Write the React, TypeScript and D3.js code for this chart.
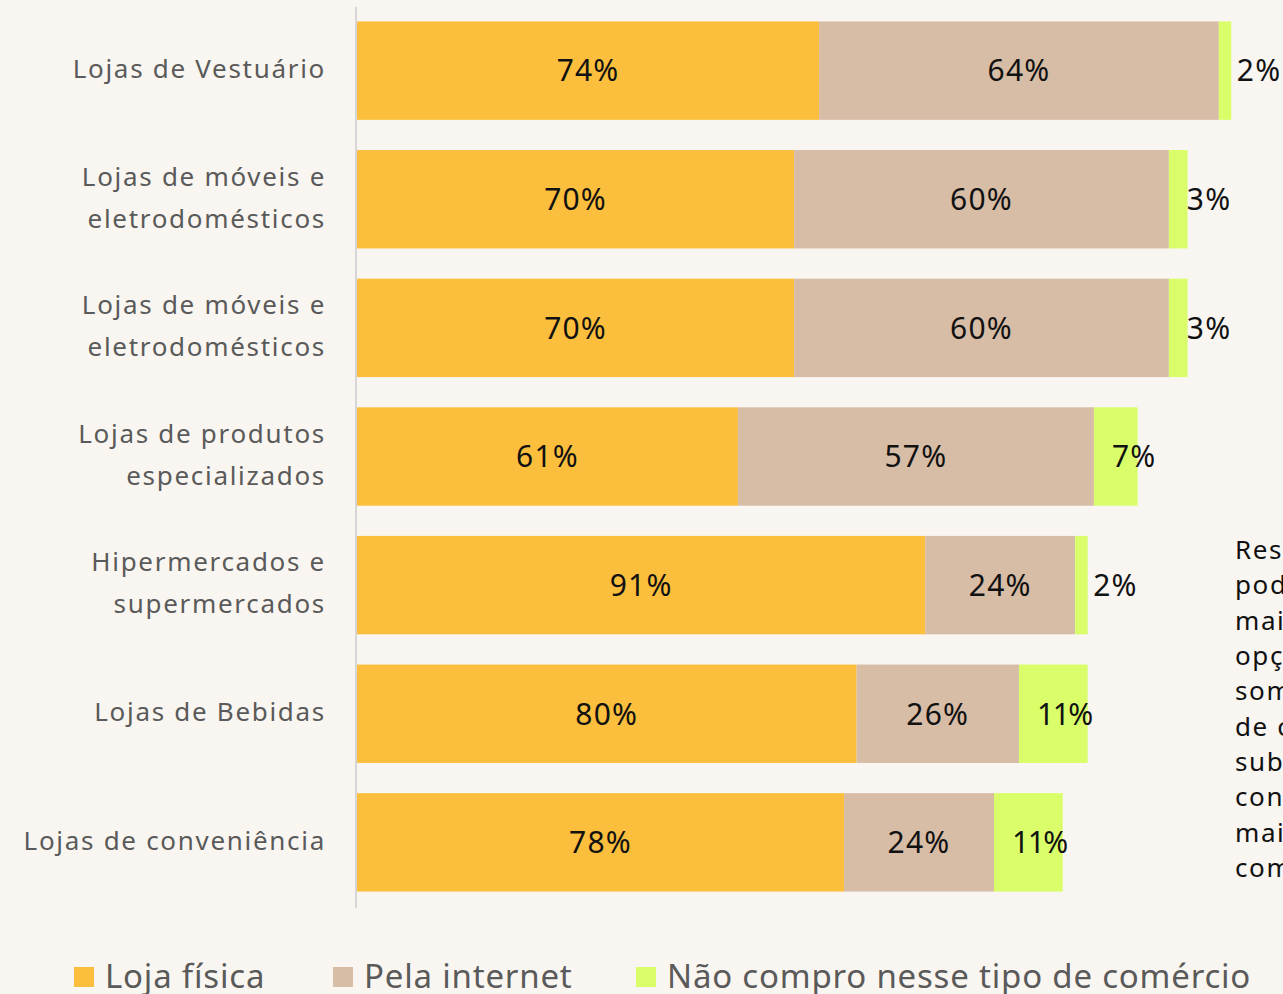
import React from 'react';
import {scaleBand, scaleLinear, stack} from 'd3';

const categories = [
  'Lojas de Vestuário',
  'Lojas de móveis e|eletrodomésticos',
  'Lojas de móveis e|eletrodomésticos',
  'Lojas de produtos|especializados',
  'Hipermercados e|supermercados',
  'Lojas de Bebidas',
  'Lojas de conveniência',
];
const lojaFisica = [74, 70, 70, 61, 91, 80, 78];
const pelaInternet = [64, 60, 60, 57, 24, 26, 24];
const naoCompro = [2, 3, 3, 7, 2, 11, 11];
const seriesNames = ['Loja física', 'Pela internet', 'Não compro nesse tipo de comércio'];
const colors = ['#fcbf3d', '#d7bca6', '#d9fe69'];
const noteLines = [
  'Respondentes', 'podiam marcar', 'mais de uma', 'opção, então a', 'soma dos valores',
  'de cada', 'subcategoria', 'considera', 'mais de uma', 'compra',
];

const W = 1283, H = 994;
const FONT = "'Noto Sans', sans-serif";

const App = () => {
  const keys = ['a', 'b', 'c'];
  const rows = categories.map((c, i) => ({cat: i, a: lojaFisica[i], b: pelaInternet[i], c: naoCompro[i]}));
  const stacked = stack<any>().keys(keys)(rows);

  const y = scaleBand<number>()
    .domain(categories.map((_, i) => i))
    .range([6, 907])
    .paddingInner(0.235)
    .paddingOuter(0.12);
  const x = scaleLinear().domain([0, 100]).range([357, 981.5]);

  return (
    <div style={{position: 'absolute', left: 0, top: 0}}>
      <svg width={W} height={H} style={{display: 'block', fontFamily: FONT}}>
        <rect width={W} height={H} fill="#f9f6f1" />
        {stacked.map((s, si) => (
          <g key={si}>
            {s.map((d, i) => {
              const x0 = x(d[0]), x1 = x(d[1]);
              const yy = y(i)!;
              const cy = yy + y.bandwidth() / 2;
              const v = d[1] - d[0];
              return (
                <g key={i}>
                  <rect x={x0} y={yy} width={x1 - x0} height={y.bandwidth()} fill={colors[si]} />
                  {si < 2 ? (
                    <text x={(x0 + x1) / 2} y={cy} dy="0.36em" textAnchor="middle" fontSize={30} letterSpacing={1.2} fill="#111">{v}%</text>
                  ) : (
                    <text x={x0 + 18} y={cy} dy="0.36em" textAnchor="start" fontSize={30} letterSpacing={v > 9 ? -1.5 : 1.2} fill="#111">{v}%</text>
                  )}
                </g>
              );
            })}
          </g>
        ))}
        <line x1={356} x2={356} y1={7} y2={908} stroke="#d6d6d6" strokeWidth={2} />
        {categories.map((c, i) => {
          const lines = c.split('|');
          const cy = y(i)! + y.bandwidth() / 2;
          return (
            <text key={i} x={326} y={cy - (lines.length - 1) * 21} textAnchor="end" fontSize={26} letterSpacing={1.7} fill="#5a5a5a">
              {lines.map((l, li) => (
                <tspan key={li} x={326} dy={li === 0 ? '0.28em' : 42}>{l}</tspan>
              ))}
            </text>
          );
        })}
        <text x={1235} y={550} fontSize={26} letterSpacing={1.6} fill="#111">
          {noteLines.map((l, li) => (
            <tspan key={li} x={1235} dy={li === 0 ? '0.35em' : 35.3}>{l}</tspan>
          ))}
        </text>
        {seriesNames.map((n, i) => {
          const lx = [74, 333, 636][i];
          return (
            <g key={i}>
              <rect x={lx} y={967} width={20} height={20} fill={colors[i]} />
              <text x={lx + 31} y={988} fontSize={33} letterSpacing={0.8} fill="#5a5a5a">{n}</text>
            </g>
          );
        })}
      </svg>
    </div>
  );
};

export default App;
